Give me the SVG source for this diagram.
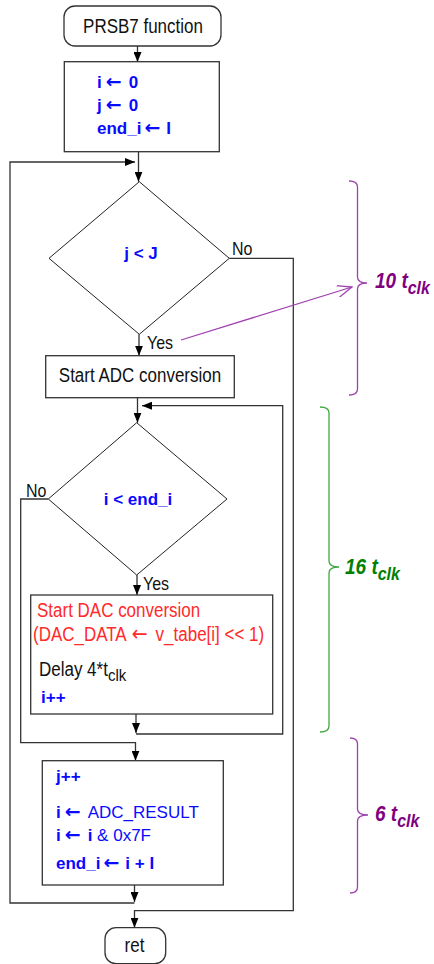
<svg xmlns="http://www.w3.org/2000/svg" width="434" height="964" viewBox="0 0 434 964">
<defs>
<style>
.box{fill:#fff;stroke:#333;stroke-width:1.3}
.dia{fill:#fff;stroke:#222;stroke-width:1}
.con{fill:none;stroke:#333;stroke-width:1.3}
.t{font-family:"Liberation Sans",Arial,sans-serif;font-size:17px;fill:#111}
.b{font-family:"Liberation Sans",Arial,sans-serif;font-size:17px;font-weight:bold;fill:#0a0aff}
.bl{font-family:"Liberation Sans",Arial,sans-serif;font-size:17px;font-weight:normal;fill:#0a0aff}
.r{font-family:"Liberation Sans",Arial,sans-serif;font-size:17px;fill:#ff2a2a}
.ar{font-family:"DejaVu Sans",sans-serif;font-size:19px}
.lbl{font-family:"Liberation Sans",Arial,sans-serif;font-size:16px;fill:#111}
.pt{font-family:"Liberation Sans",Arial,sans-serif;font-size:19px;font-weight:bold;font-style:italic;fill:#800080}
.gt{font-family:"Liberation Sans",Arial,sans-serif;font-size:19px;font-weight:bold;font-style:italic;fill:#008000}
.brp{fill:none;stroke:#a040b0;stroke-width:1.3}
.brg{fill:none;stroke:#40a840;stroke-width:1.3}
</style>
<marker id="ah" markerUnits="userSpaceOnUse" markerWidth="10" markerHeight="8" refX="10" refY="4" orient="auto">
<path d="M0,0 L10,4 L0,8 z" fill="#000"/>
</marker>
<marker id="oah" markerUnits="userSpaceOnUse" markerWidth="16" markerHeight="12" refX="15" refY="6" orient="auto">
<path d="M0,0 L15,6 L0,12" fill="none" stroke="#a040b0" stroke-width="1.3"/>
</marker>
</defs>

<g id="connectors">
<path class="con" d="M137.5,46 L137.5,62" marker-end="url(#ah)"/>
<path class="con" d="M138.5,151.7 L138.5,181.7" marker-end="url(#ah)"/>
<path class="con" d="M134.5,903 L10,903 L10,162 L135,162" marker-end="url(#ah)"/>
<path class="con" d="M139,334.3 L139,355.7" marker-end="url(#ah)"/>
<path class="con" d="M229.3,258.3 L293.3,258.3 L293.3,910.7 L134.5,910.7 L134.5,927.7" marker-end="url(#ah)"/>
<path class="con" d="M137.5,397.7 L137.5,422.7" marker-end="url(#ah)"/>
<path class="con" d="M136,734 L282.7,734 L282.7,405.7 L142,405.7" marker-end="url(#ah)"/>
<path class="con" d="M137,575 L137,595" marker-end="url(#ah)"/>
<path class="con" d="M136,714 L136,733" marker-end="url(#ah)"/>
<path class="con" d="M48.3,499 L20.7,499 L20.7,742.7 L135.5,742.7 L135.5,760.7" marker-end="url(#ah)"/>
<path class="con" d="M134.5,885 L134.5,902" marker-end="url(#ah)"/>
<path d="M181,340 L352,287" fill="none" stroke="#a040b0" stroke-width="1.3" marker-end="url(#oah)"/>
<text class="lbl" x="232" y="255" transform="translate(0,-38) scale(1,1.15)">No</text>
<text class="lbl" x="147" y="349" transform="translate(0,-52) scale(1,1.15)">Yes</text>
<text class="lbl" x="26" y="496.7" transform="translate(0,-74.5) scale(1,1.15)">No</text>
<text class="lbl" x="143" y="590" transform="translate(0,-88.5) scale(1,1.15)">Yes</text>
</g>

<g id="start">
<rect class="box" x="64" y="6" width="157" height="40" rx="11"/>
<text class="t" x="143" y="33" text-anchor="middle" transform="translate(0,-5) scale(1,1.15)">PRSB7 function</text>
</g>

<g id="init">
<rect class="box" x="64.3" y="61.7" width="155" height="90"/>
<text class="b" x="97" y="88">i<tspan class="ar" dx="4">←</tspan><tspan dx="7">0</tspan></text>
<text class="b" x="97" y="110.5">j<tspan class="ar" dx="4">←</tspan><tspan dx="7">0</tspan></text>
<text class="b" x="97" y="134">end_i<tspan class="ar" dx="3">←</tspan><tspan dx="6">I</tspan></text>
</g>

<g id="cond_j">
<polygon class="dia" points="139.3,181.7 229.3,258.3 139.3,334.3 49,258.3"/>
<text class="b" x="141" y="259" text-anchor="middle">j &lt; J</text>
</g>

<g id="adc">
<rect class="box" x="45.7" y="355.7" width="188.6" height="42"/>
<text class="t" x="140" y="382.3" text-anchor="middle" transform="translate(0,-57.3) scale(1,1.15)">Start ADC conversion</text>
</g>

<g id="cond_i">
<polygon class="dia" points="136.7,422.7 227,499 136.7,575 48.3,499"/>
<text class="b" x="138" y="504.5" text-anchor="middle">i &lt; end_i</text>
</g>

<g id="dac">
<rect class="box" x="30.7" y="595" width="242" height="119"/>
<text class="r" x="37" y="616.7" transform="translate(0,-92.5) scale(1,1.15)">Start DAC conversion</text>
<text class="r" x="33" y="641" transform="translate(0,-96.2) scale(1,1.15)">(DAC_DATA<tspan class="ar" dx="5" font-size="19">←</tspan><tspan dx="8">v_tabe[i] &lt;&lt; 1)</tspan></text>
<text class="t" x="39" y="676" transform="translate(0,-101.4) scale(1,1.15)">Delay 4*t<tspan font-size="15" dy="4">clk</tspan></text>
<text class="b" x="41" y="703">i++</text>
</g>

<g id="update">
<rect class="box" x="42.3" y="760.7" width="181" height="124.3"/>
<text class="b" x="56" y="782">j++</text>
<text class="b" x="56" y="818">i<tspan class="ar" dx="4">←</tspan><tspan class="bl" dx="7">ADC_RESULT</tspan></text>
<text class="b" x="56" y="840.7">i<tspan class="ar" dx="4">←</tspan><tspan dx="7">i </tspan><tspan class="bl">&amp; 0x7F</tspan></text>
<text class="b" x="56" y="869">end_i<tspan class="ar" dx="3">←</tspan><tspan dx="6">i + I</tspan></text>
</g>

<g id="ret">
<rect class="box" x="105" y="927.7" width="60.7" height="36" rx="11"/>
<text class="t" x="134.5" y="951.7" text-anchor="middle" transform="translate(0,-142.8) scale(1,1.15)">ret</text>
</g>

<g id="brace10">
<path class="brp" d="M349,181 Q357.5,181 357.5,187 L357.5,277 Q357.5,283 367,283 Q357.5,283 357.5,289 L357.5,389 Q357.5,395 349,395"/>
<text class="pt" x="375" y="288" transform="translate(0,-43.2) scale(1,1.15)">10 t<tspan font-size="16" dy="5">clk</tspan></text>
</g>

<g id="brace16">
<path class="brg" d="M320,407 Q329,407 329,413 L329,561 Q329,567 339,567 Q329,567 329,573 L329,726 Q329,732 320,732"/>
<text class="gt" x="345" y="574" transform="translate(0,-86.1) scale(1,1.15)">16 t<tspan font-size="16" dy="5">clk</tspan></text>
</g>

<g id="brace6">
<path class="brp" d="M350,738 Q357.5,738 357.5,744 L357.5,809 Q357.5,815 368,815 Q357.5,815 357.5,821 L357.5,887 Q357.5,893 350,893"/>
<text class="pt" x="375" y="821" transform="translate(0,-123.2) scale(1,1.15)">6 t<tspan font-size="16" dy="5">clk</tspan></text>
</g>
</svg>
